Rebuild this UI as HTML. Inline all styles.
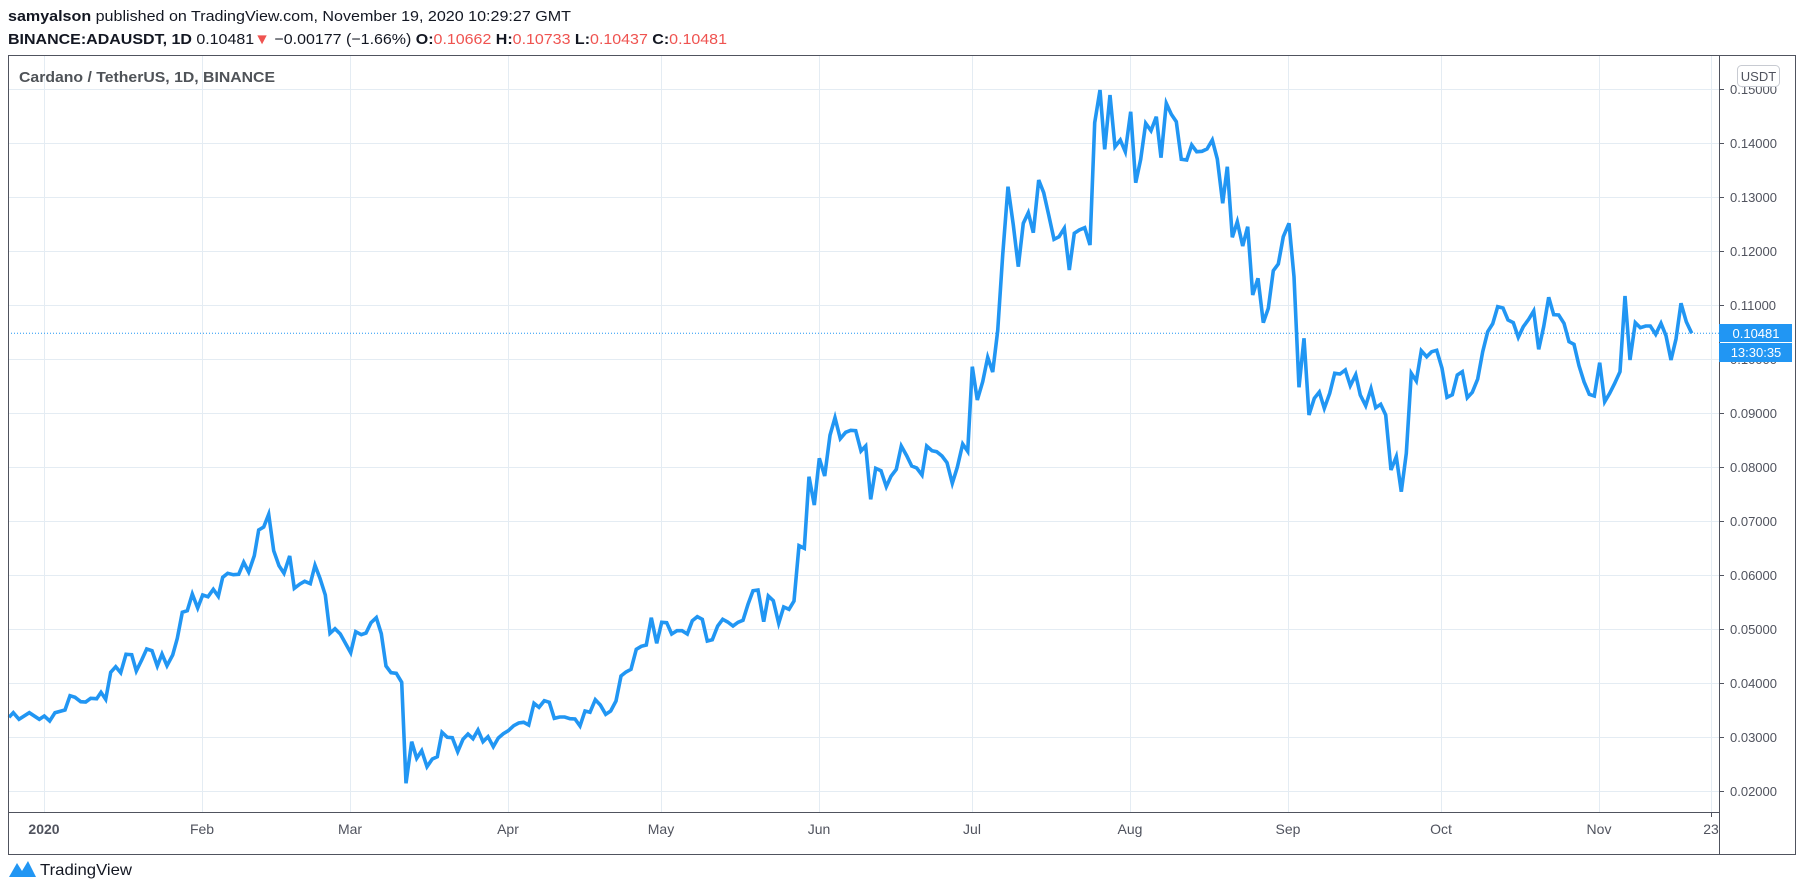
<!DOCTYPE html>
<html><head><meta charset="utf-8"><style>
html,body{margin:0;padding:0;background:#fff;width:1805px;height:890px;overflow:hidden}
svg{display:block}
text{font-family:"Liberation Sans",sans-serif}
</style></head><body>
<svg width="1805" height="890" viewBox="0 0 1805 890" xmlns="http://www.w3.org/2000/svg">
<rect width="1805" height="890" fill="#fff"/>
<text x="8" y="21" font-size="15" fill="#131722" textLength="563" lengthAdjust="spacingAndGlyphs"><tspan font-weight="bold">samyalson</tspan> published on TradingView.com, November 19, 2020 10:29:27 GMT</text>
<text x="8" y="44" font-size="15" fill="#131722" textLength="719" lengthAdjust="spacingAndGlyphs"><tspan font-weight="bold">BINANCE:ADAUSDT, 1D</tspan> 0.10481<tspan fill="#ef5350">▼</tspan> −0.00177 (−1.66%) <tspan font-weight="bold">O:</tspan><tspan fill="#ef5350">0.10662</tspan> <tspan font-weight="bold">H:</tspan><tspan fill="#ef5350">0.10733</tspan> <tspan font-weight="bold">L:</tspan><tspan fill="#ef5350">0.10437</tspan> <tspan font-weight="bold">C:</tspan><tspan fill="#ef5350">0.10481</tspan></text>
<g stroke="#e4ecf3" stroke-width="1">
<line x1="8" x2="1719" y1="89.5" y2="89.5"/><line x1="8" x2="1719" y1="143.5" y2="143.5"/><line x1="8" x2="1719" y1="197.5" y2="197.5"/><line x1="8" x2="1719" y1="251.5" y2="251.5"/><line x1="8" x2="1719" y1="305.5" y2="305.5"/><line x1="8" x2="1719" y1="359.5" y2="359.5"/><line x1="8" x2="1719" y1="413.5" y2="413.5"/><line x1="8" x2="1719" y1="467.5" y2="467.5"/><line x1="8" x2="1719" y1="521.5" y2="521.5"/><line x1="8" x2="1719" y1="575.5" y2="575.5"/><line x1="8" x2="1719" y1="629.5" y2="629.5"/><line x1="8" x2="1719" y1="683.5" y2="683.5"/><line x1="8" x2="1719" y1="737.5" y2="737.5"/><line x1="8" x2="1719" y1="791.5" y2="791.5"/>
<line y1="56" y2="812" x1="44.5" x2="44.5"/><line y1="56" y2="812" x1="202.5" x2="202.5"/><line y1="56" y2="812" x1="350.5" x2="350.5"/><line y1="56" y2="812" x1="508.5" x2="508.5"/><line y1="56" y2="812" x1="661.5" x2="661.5"/><line y1="56" y2="812" x1="819.5" x2="819.5"/><line y1="56" y2="812" x1="972.5" x2="972.5"/><line y1="56" y2="812" x1="1130.5" x2="1130.5"/><line y1="56" y2="812" x1="1288.5" x2="1288.5"/><line y1="56" y2="812" x1="1441.5" x2="1441.5"/><line y1="56" y2="812" x1="1599.5" x2="1599.5"/><line y1="56" y2="812" x1="1711.5" x2="1711.5"/>
</g>
<line x1="8" x2="1719" y1="333.3" y2="333.3" stroke="#2196f3" stroke-width="1" stroke-dasharray="1,2"/>
<text x="19" y="82" font-size="15" font-weight="bold" fill="#4f5358" textLength="256" lengthAdjust="spacingAndGlyphs">Cardano / TetherUS, 1D, BINANCE</text>
<polyline fill="none" stroke="#2196f3" stroke-width="3.6" stroke-linejoin="miter" points="9,717.3 13.3,712.7 19,719.3 29.3,712.7 39.3,719.3 44.3,716 49.7,721 55,712.7 65,710 70,695.7 75,697.3 80.7,701.7 85.7,702 90.7,698.3 96.7,698.7 101,692.3 105.7,699.3 110.7,672.3 115.7,666.7 120.7,672.7 126,654.3 131.7,654.7 136.3,671 141.7,660 146.7,649 152,650.7 157.3,666 162,654 167,665.7 172.7,655 177.3,638.3 182.3,612.3 187.3,610.7 192.3,594 197.7,608 202.7,595 208,596.7 213.3,589.3 218.3,596.3 222.7,577.3 227.7,573.3 233.3,574.7 238.7,574.3 243.7,562.3 248.7,572 254.3,555.7 258.7,530 263.7,527 268.7,514.3 273.7,550.7 279,565.7 284,573.3 289.7,556 294.3,588.3 300,584 304.7,581.3 310.3,583.7 315,565.3 320,578.3 325.3,595 330,633.3 335,628.7 340.3,634 345.3,643 350.7,652.7 355.7,631.7 361.3,634.7 366,633 371,622.7 376.3,617.7 381.3,633.7 386,666 391,672.7 396.3,673.3 401.7,682.3 406,783.3 411.7,741.7 416.7,758.3 421.7,750.7 427,766.7 432.3,759 437.3,756.7 442,732.3 447.3,737.3 452.3,737.7 457.7,751.7 463,739.3 468,734 473,738.7 478,730 483,741.7 488,736.7 493.3,746.7 498.3,738 503.3,733.7 508.3,730.7 513.7,725.7 518.7,723 523.7,722.3 528.7,725 534,703.3 539,707.3 544.3,700.7 549.3,702.3 554.3,718.3 559.7,717 564.7,717 570,718.7 575,719 580,726 585,711 590,712.3 595.3,699.7 600.3,705 605.7,714.3 610.7,711 616,701 621,676 626,672 631,669.3 636.3,649.3 641.3,646.3 646.3,645 651.3,617.7 656.7,643.3 661.7,622.3 666.7,622.7 671.7,634 677,630.7 682,630.7 687.3,634 692.3,620.7 697.3,616.7 702.3,619.3 707.3,641 712.3,639.7 717.7,626 722.7,619.3 727.7,622 733,626 738,622.3 743,620.3 748,604.3 753,590.7 758,590 763.7,621.7 768.3,596 773.3,600.7 778.7,623.3 783.7,607 789,609.3 794,601 799,545.7 804.3,548.3 809,476.7 814.3,505 819.3,458.3 824.7,476 830,435.3 835,417.7 840.3,438.7 845.7,432.3 850.7,430.3 855.7,430.7 861,451 865.7,446 870.7,499.3 875.7,468.3 881,470.7 886.3,486.7 891,476.3 896.3,469.3 901.3,446 906.7,455.7 911.7,466 916.7,468 922,475 926.7,446 932,450.7 936.7,451.7 942,456 947,462.7 952.3,483.3 957.3,467.3 962.7,444 967.7,451.3 972.3,366.7 977.3,400 982.7,381.7 987.7,357.3 992.7,372 997.7,330.7 1002.7,255 1008,186.7 1013.3,225 1018.3,266.7 1023.3,223.3 1028.3,212.7 1033.3,232.7 1038.7,180 1043.7,192.7 1048.7,215 1054,239.3 1059,236.7 1064.3,228.3 1069.3,270 1074.3,233.3 1079.3,230 1084.7,227.7 1090,245 1094.7,122.7 1100,90 1104.7,149.3 1110,95 1115,146.7 1120.3,140 1125.3,151.7 1130.7,111.7 1135.7,182.7 1140.7,159.3 1145.7,123.3 1151,130.7 1156.3,116.7 1161,157.7 1166.3,103.3 1171.3,114.3 1176.3,121.7 1181.3,159.3 1186.7,160 1191.7,145 1196.7,151.7 1202,151.3 1207,149 1212.3,140 1217.3,159 1222.7,203.3 1227.3,166.7 1232.3,237.3 1237.3,221.7 1242.7,246 1247.7,226.7 1252.7,295 1258,278.3 1263.3,322.7 1268.3,308.3 1273.3,270.7 1278.3,264 1283.3,236.7 1289,223.3 1294,276.7 1299,387.3 1304,338.3 1309,415 1314.3,398.3 1319.3,392 1324.3,408.3 1329.7,393.3 1334.7,373.3 1340,374 1345.3,370 1350.3,385.7 1355.7,374.7 1360.3,395 1365.7,405.7 1371,388.7 1375.7,407.7 1380.7,404.3 1385.7,415 1391,470 1396.3,456.7 1401.3,491.7 1406.3,453.3 1411.3,373.3 1416.3,381 1421.3,350.7 1426.7,356.7 1431.7,351.7 1436.7,350.3 1442,368.3 1447,397.3 1452.3,394.7 1457.3,375 1462.3,371.7 1467.3,397.7 1472.3,392.3 1477.7,379 1482.7,351.7 1487.7,331.7 1492.7,323.7 1497.7,306.7 1503,308 1508,320 1513.3,322.7 1518.3,337.3 1523.3,326.7 1528.7,319.3 1533.7,311 1538.7,349.3 1543.7,326.7 1548.7,297.3 1553.7,314.7 1558.7,315 1564,323.3 1569,341.7 1574,344.3 1579,365.7 1584,381.7 1589.3,394.3 1594.3,396 1599.7,362.7 1604.7,401.7 1609.7,393.3 1614.7,383.3 1620,371.7 1625,296 1630,360 1635.3,322.7 1640.3,327.7 1645.7,326 1650.3,326 1655.7,334.3 1661,323.3 1666,335.7 1671,360 1676,339 1681,303.3 1686.3,321.7 1691.7,333.3"/>
<g stroke="#50535e" stroke-width="1" fill="none">
<rect x="8.5" y="55.5" width="1787" height="799"/>
<line x1="1719.5" x2="1719.5" y1="56" y2="855"/>
<line x1="8" x2="1719" y1="812.5" y2="812.5"/>
</g>
<g stroke="#50535e" stroke-width="1">
<line x1="1719" x2="1724" y1="89.5" y2="89.5"/><line x1="1719" x2="1724" y1="143.5" y2="143.5"/><line x1="1719" x2="1724" y1="197.5" y2="197.5"/><line x1="1719" x2="1724" y1="251.5" y2="251.5"/><line x1="1719" x2="1724" y1="305.5" y2="305.5"/><line x1="1719" x2="1724" y1="359.5" y2="359.5"/><line x1="1719" x2="1724" y1="413.5" y2="413.5"/><line x1="1719" x2="1724" y1="467.5" y2="467.5"/><line x1="1719" x2="1724" y1="521.5" y2="521.5"/><line x1="1719" x2="1724" y1="575.5" y2="575.5"/><line x1="1719" x2="1724" y1="629.5" y2="629.5"/><line x1="1719" x2="1724" y1="683.5" y2="683.5"/><line x1="1719" x2="1724" y1="737.5" y2="737.5"/><line x1="1719" x2="1724" y1="791.5" y2="791.5"/>
<line y1="812" y2="817" x1="1711.5" x2="1711.5"/>
</g>
<g font-size="13" fill="#50535e">
<text x="1730" y="94">0.15000</text><text x="1730" y="148">0.14000</text><text x="1730" y="202">0.13000</text><text x="1730" y="256">0.12000</text><text x="1730" y="310">0.11000</text><text x="1730" y="364">0.10000</text><text x="1730" y="418">0.09000</text><text x="1730" y="472">0.08000</text><text x="1730" y="526">0.07000</text><text x="1730" y="580">0.06000</text><text x="1730" y="634">0.05000</text><text x="1730" y="688">0.04000</text><text x="1730" y="742">0.03000</text><text x="1730" y="796">0.02000</text>
</g>
<rect x="1737.5" y="65.5" width="42" height="21" rx="4" fill="#fff" stroke="#c8cbd2"/>
<text x="1758.5" y="81" font-size="13" fill="#50535e" text-anchor="middle">USDT</text>
<rect x="1719" y="324" width="73" height="18" fill="#2196f3"/>
<rect x="1719" y="343" width="73" height="19" fill="#2196f3"/>
<text x="1756" y="338" font-size="13" fill="#fff" text-anchor="middle">0.10481</text>
<text x="1756" y="357" font-size="13" fill="#fff" text-anchor="middle">13:30:35</text>
<g font-size="14" fill="#50535e" text-anchor="middle">
<text x="44" y="834" font-weight="bold">2020</text><text x="202" y="834">Feb</text><text x="350" y="834">Mar</text><text x="508" y="834">Apr</text><text x="661" y="834">May</text><text x="819" y="834">Jun</text><text x="972" y="834">Jul</text><text x="1130" y="834">Aug</text><text x="1288" y="834">Sep</text><text x="1441" y="834">Oct</text><text x="1599" y="834">Nov</text><text x="1711" y="834">23</text>
</g>
<path d="M9 877 L17 863 L22 871 L28 861 L36 877 Z" fill="#2196f3"/>
<text x="40" y="875" font-size="16" fill="#131722" textLength="92" lengthAdjust="spacingAndGlyphs">TradingView</text>
</svg>
</body></html>
